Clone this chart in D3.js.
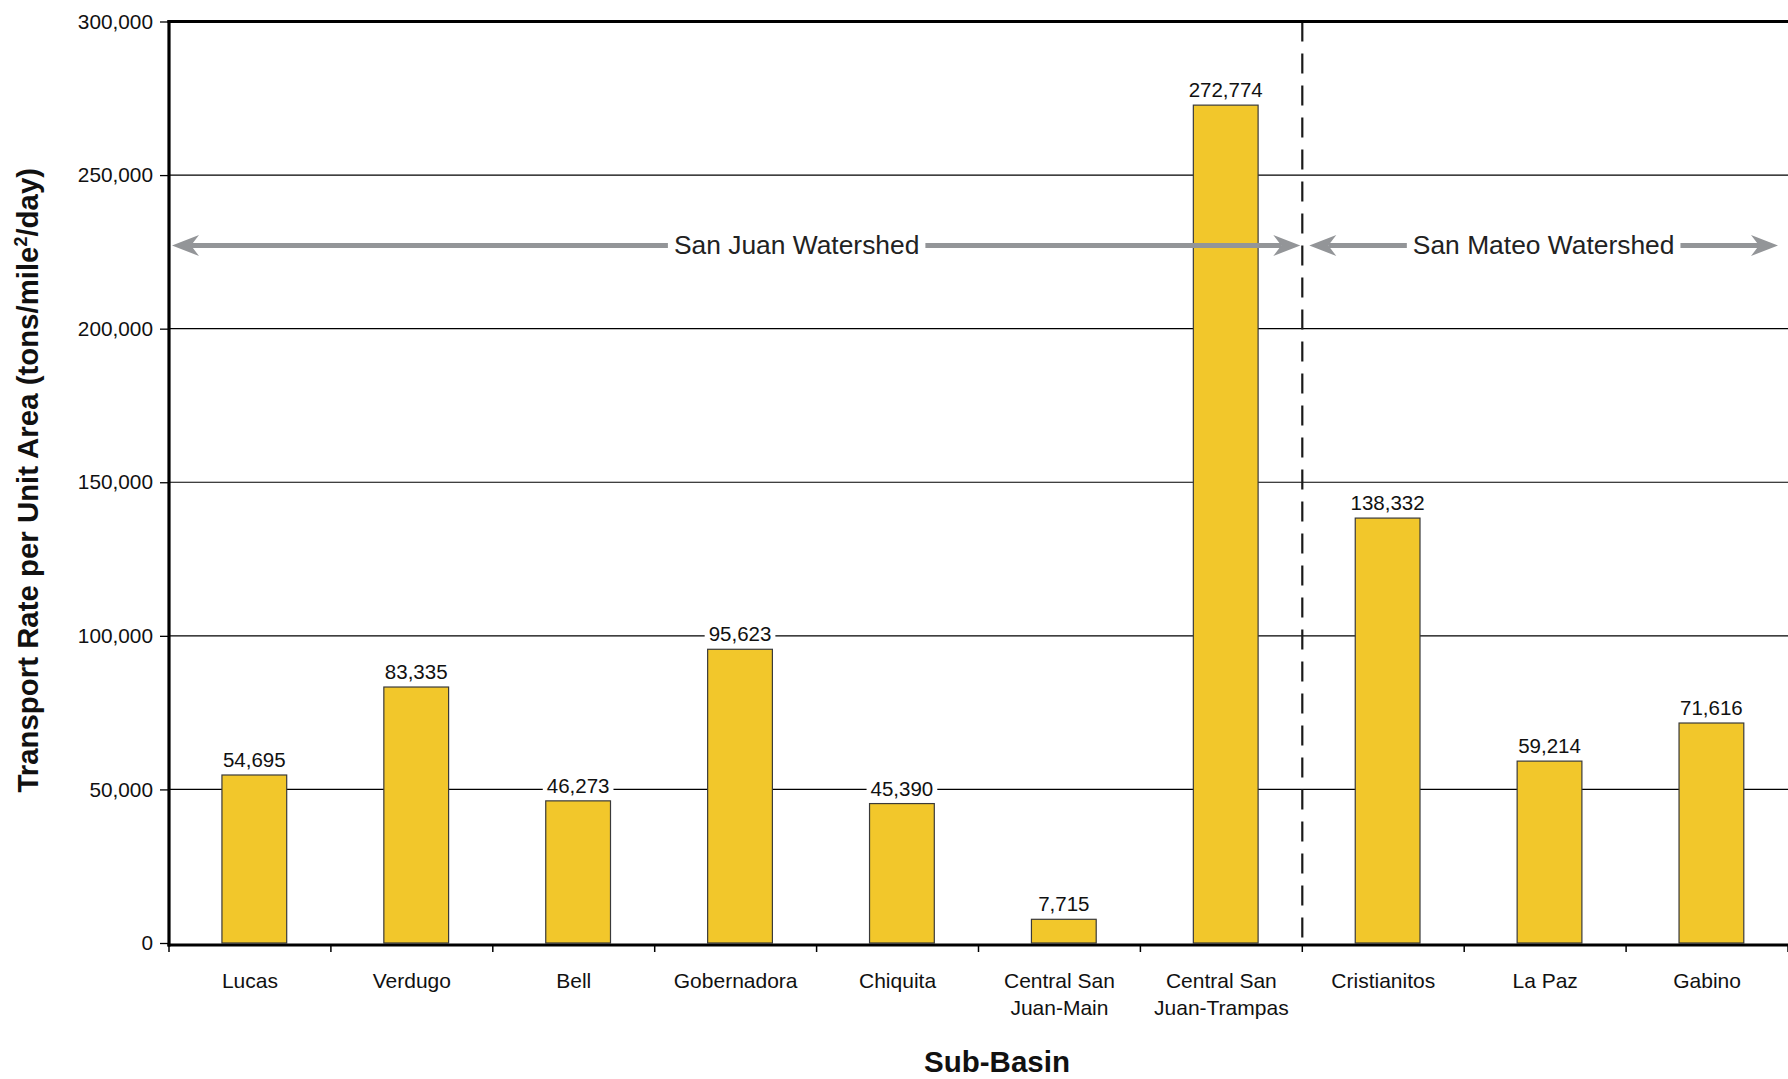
<!DOCTYPE html>
<html>
<head>
<meta charset="utf-8">
<script src="https://cdn.jsdelivr.net/npm/d3@7"></script>
<style>
  html, body { margin: 0; padding: 0; background: #fff; }
  svg { display: block; font-family: "Liberation Sans", Arial, Helvetica, sans-serif; }
</style>
</head>
<body>
<svg id="chart" width="1788" height="1079"></svg>
<script>
// ---- data ----
const categories = ["Lucas", "Verdugo", "Bell", "Gobernadora", "Chiquita",
  "Central San\nJuan-Main", "Central San\nJuan-Trampas", "Cristianitos", "La Paz", "Gabino"];
const values = [54695, 83335, 46273, 95623, 45390, 7715, 272774, 138332, 59214, 71616];
const yTicks = [0, 50000, 100000, 150000, 200000, 250000, 300000];
const watershedNames = ["San Juan Watershed", "San Mateo Watershed"];
const watershedFirstCategory = [0, 7]; // San Juan: 0-6, San Mateo: 7-9
const yTitle = ["Transport Rate per Unit Area (tons/mile", "2", "/day)"];
const xTitle = "Sub-Basin";

// ---- layout ----
const W = 1788, H = 1079;
const m = { left: 169, right: 0, top: 21.5, bottom: 136 };
const svg = d3.select("#chart");
const plotBottom = H - m.bottom; // 943

const x = d3.scaleBand().domain(categories).range([m.left, W - m.right])
  .paddingInner(0.6).paddingOuter(0.3).align(0.545);
const y = d3.scaleLinear().domain([0, 300000]).range([plotBottom, m.top]);
const step = x.step();
const boundary = i => m.left + i * step;

const fmt = d3.format(",");
const barColor = "#F2C72B";
const arrowColor = "#939598";

// gridlines
svg.append("g").selectAll("line").data(yTicks.filter(t => t > 0 && t < 300000)).join("line")
  .attr("x1", m.left).attr("x2", W).attr("y1", d => y(d)).attr("y2", d => y(d))
  .attr("stroke", "#000").attr("stroke-width", 1.1);

// value labels (with white background), drawn before bars
const labG = svg.append("g");
values.forEach((v, i) => {
  const cx = x(categories[i]) + x.bandwidth() / 2;
  const t = labG.append("text").attr("x", cx).attr("y", y(v) - 8)
    .attr("text-anchor", "middle").attr("font-size", 20.5).attr("fill", "#111")
    .text(fmt(v));
  const bb = t.node().getBBox();
  labG.insert("rect", "text").attr("x", bb.x - 4).attr("y", bb.y).attr("width", bb.width + 8)
    .attr("height", bb.height).attr("fill", "#fff");
});

// bars
svg.append("g").selectAll("rect").data(values).join("rect")
  .attr("x", (d, i) => x(categories[i]))
  .attr("y", d => y(d))
  .attr("width", x.bandwidth())
  .attr("height", d => y(0) - y(d))
  .attr("fill", barColor).attr("stroke", "#3a3a3a").attr("stroke-width", 1.2);

// divider dashed line
const divX = boundary(watershedFirstCategory[1]);
svg.append("line").attr("x1", divX).attr("x2", divX).attr("y1", m.top).attr("y2", plotBottom + 2)
  .attr("stroke", "#1a1a1a").attr("stroke-width", 2.2).attr("stroke-dasharray", "20,12");

// arrows
function arrowHead(g, tipX, yy, dir) {
  const L = 27, h = 10.5, notch = 19;
  g.append("path")
    .attr("d", `M${tipX},${yy} L${tipX - dir * L},${yy - h} L${tipX - dir * notch},${yy} L${tipX - dir * L},${yy + h} Z`)
    .attr("fill", arrowColor);
}
function watershedArrow(name, x0, x1, textX) {
  const g = svg.append("g");
  const ay = 245.5;
  const t = g.append("text").attr("x", textX).attr("y", ay + 8.5).attr("text-anchor", "middle")
    .attr("font-size", 26.4).attr("fill", "#222").text(name);
  const bb = t.node().getBBox();
  const gap = 6;
  g.insert("line", "text").attr("x1", x0 + 19).attr("x2", bb.x - gap).attr("y1", ay).attr("y2", ay)
    .attr("stroke", arrowColor).attr("stroke-width", 5);
  g.insert("line", "text").attr("x1", bb.x + bb.width + gap).attr("x2", x1 - 19).attr("y1", ay).attr("y2", ay)
    .attr("stroke", arrowColor).attr("stroke-width", 5);
  arrowHead(g, x0, ay, -1);
  arrowHead(g, x1, ay, 1);
}
watershedArrow(watershedNames[0], m.left + 3, divX - 2, m.left + (divX - m.left) * 0.5 + 61);
watershedArrow(watershedNames[1], divX + 7, W - 10, (divX + 7 + W - 10) / 2);

// Y axis
const yAxis = d3.axisLeft(y).tickValues(yTicks).tickFormat(fmt).tickSize(9).tickPadding(7);
const yg = svg.append("g").attr("transform", `translate(${m.left},0)`).call(yAxis);
yg.select(".domain").remove();
yg.selectAll(".tick line").attr("stroke", "#000").attr("stroke-width", 1.3);
yg.selectAll(".tick text").attr("font-size", 20.8).attr("fill", "#111")
  .attr("font-family", "'Liberation Sans', Arial, sans-serif");

// axis frame lines
svg.append("line").attr("x1", m.left).attr("x2", m.left).attr("y1", m.top - 1.5).attr("y2", plotBottom + 3.5)
  .attr("stroke", "#000").attr("stroke-width", 3.2);
svg.append("line").attr("x1", m.left - 1.5).attr("x2", W).attr("y1", m.top).attr("y2", m.top)
  .attr("stroke", "#000").attr("stroke-width", 3.2);
svg.append("line").attr("x1", m.left - 1.5).attr("x2", W).attr("y1", plotBottom + 2).attr("y2", plotBottom + 2)
  .attr("stroke", "#000").attr("stroke-width", 3);

// x ticks at band boundaries
svg.append("g").selectAll("line").data(d3.range(categories.length + 1)).join("line")
  .attr("x1", d => boundary(d)).attr("x2", d => boundary(d))
  .attr("y1", plotBottom + 2).attr("y2", plotBottom + 9)
  .attr("stroke", "#000").attr("stroke-width", 1.5);

// x category labels (centred on band)
const xl = svg.append("g");
categories.forEach((c, i) => {
  const cx = boundary(i) + step / 2;
  const t = xl.append("text").attr("text-anchor", "middle").attr("font-size", 21).attr("fill", "#111");
  c.split("\n").forEach((line, k) => {
    t.append("tspan").attr("x", cx).attr("y", plotBottom + 45 + k * 27).text(line);
  });
});

// axis titles
svg.append("text").attr("x", 997).attr("y", 1072).attr("text-anchor", "middle")
  .attr("font-size", 29.5).attr("font-weight", "bold").attr("fill", "#111").text(xTitle);

const yt = svg.append("text")
  .attr("transform", `translate(38,${(m.top + plotBottom) / 2 - 2}) rotate(-90)`)
  .attr("text-anchor", "middle").attr("font-size", 29.4).attr("font-weight", "bold").attr("fill", "#111");
yt.append("tspan").text(yTitle[0]);
yt.append("tspan").attr("font-size", 18).attr("dy", -11).text(yTitle[1]);
yt.append("tspan").attr("dy", 11).text(yTitle[2]);
</script>
</body>
</html>
